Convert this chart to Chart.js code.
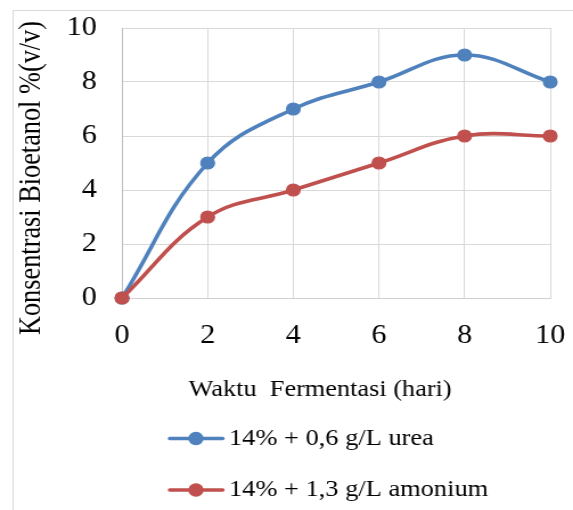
<!DOCTYPE html>
<html>
<head>
<meta charset="utf-8">
<script src="https://cdn.jsdelivr.net/npm/chart.js@4.4.1/dist/chart.umd.min.js"></script>
<style>
  html, body { margin: 0; padding: 0; background: #ffffff; overflow: hidden; }
  #c { display: block; transform: scaleX(1.1392); transform-origin: 0 0; }
</style>
</head>
<body>
<canvas id="c" width="503" height="510"></canvas>
<script>
// ---- data ----
const days = [0, 2, 4, 6, 8, 10];
const ureaValues = [0, 5, 7, 8, 9, 8];
const amoniumValues = [0, 3, 4, 5, 6, 6];
const seriesLabels = ['14% + 0,6 g/L urea', '14% + 1,3 g/L amonium'];
const xTitle = 'Waktu  Fermentasi (hari)';
const yTitle = 'Konsentrasi Bioetanol %(v/v)';

const BLUE = '#4F81BD';
const RED = '#C0504D';
const FONT = '"Liberation Serif", "Times New Roman", serif';

function toPoints(xs, ys) { return xs.map((x, i) => ({ x: x, y: ys[i] })); }

const frame = {
  id: 'frame',
  beforeDraw(chart) {
    const ctx = chart.ctx;
    ctx.save();
    ctx.strokeStyle = '#d9d9d9';
    ctx.lineWidth = 1;
    ctx.strokeRect(11.5, 10.5, 1000, 1000);
    ctx.restore();
  }
};

const axisTitles = {
  id: 'axisTitles',
  afterDraw(chart) {
    const ctx = chart.ctx;
    ctx.save();
    ctx.fillStyle = '#000';
    ctx.textAlign = 'center';
    ctx.textBaseline = 'middle';
    ctx.font = '23.1px ' + FONT;
    ctx.fillText(xTitle, 281, 389.5);
    ctx.translate(28.5, 178);
    ctx.rotate(-Math.PI / 2);
    ctx.font = '26.3px ' + FONT;
    ctx.fillText(yTitle, 0, 0);
    ctx.restore();
  }
};

const legendPlugin = {
  id: 'legendPlugin',
  afterDraw(chart) {
    const ctx = chart.ctx;
    const rows = [438.5, 490];
    chart.data.datasets.forEach((ds, i) => {
      const y = rows[i];
      ctx.save();
      ctx.strokeStyle = ds.borderColor;
      ctx.lineWidth = 3.5;
      ctx.lineCap = 'round';
      ctx.beginPath();
      ctx.moveTo(149, y);
      ctx.lineTo(195.5, y);
      ctx.stroke();
      ctx.fillStyle = ds.pointBackgroundColor;
      ctx.beginPath();
      ctx.arc(172, y, 6.7, 0, Math.PI * 2);
      ctx.fill();
      ctx.fillStyle = '#000';
      ctx.font = '23.2px ' + FONT;
      ctx.textAlign = 'left';
      ctx.textBaseline = 'middle';
      ctx.fillText(ds.label, 201, y);
      ctx.restore();
    });
  }
};

new Chart(document.getElementById('c'), {
  type: 'line',
  data: {
    datasets: [
      {
        label: seriesLabels[0],
        data: toPoints(days, ureaValues),
        borderColor: BLUE,
        backgroundColor: BLUE,
        pointBackgroundColor: BLUE,
        pointBorderColor: BLUE,
        borderWidth: 3.6,
        pointRadius: 6,
        pointBorderWidth: 1.2,
        tension: 0.4,
        clip: false,
        order: 1
      },
      {
        label: seriesLabels[1],
        data: toPoints(days, amoniumValues),
        borderColor: RED,
        backgroundColor: RED,
        pointBackgroundColor: RED,
        pointBorderColor: RED,
        borderWidth: 3.6,
        pointRadius: 6,
        pointBorderWidth: 1.2,
        tension: 0.4,
        clip: false,
        order: 0
      }
    ]
  },
  options: {
    responsive: false,
    animation: false,
    devicePixelRatio: 1,
    layout: { padding: { left: 0, right: 20, top: 28, bottom: 106.4 } },
    plugins: {
      legend: { display: false },
      tooltip: { enabled: false }
    },
    scales: {
      x: {
        type: 'linear',
        min: 0,
        max: 10,
        ticks: {
          stepSize: 2,
          padding: 0,
          color: '#000',
          font: { family: FONT, size: 26.5 }
        },
        grid: { color: '#d9d9d9', lineWidth: 1, drawTicks: true, tickLength: 22, tickColor: 'rgba(0,0,0,0)' },
        border: { color: '#d0d0d0', width: 1 },
        title: { display: false },
        afterFit(scale) { scale.height = 105.6; }
      },
      y: {
        type: 'linear',
        min: 0,
        max: 10,
        ticks: {
          stepSize: 2,
          padding: 0,
          color: '#000',
          font: { family: FONT, size: 26.5 }
        },
        grid: { color: '#d9d9d9', lineWidth: 1, drawTicks: true, tickLength: 22, tickColor: 'rgba(0,0,0,0)' },
        border: { color: '#bfbfbf', width: 1 },
        afterFit(scale) { scale.width = 107.1; }
      }
    }
  },
  plugins: [frame, axisTitles, legendPlugin]
});
</script>
</body>
</html>
